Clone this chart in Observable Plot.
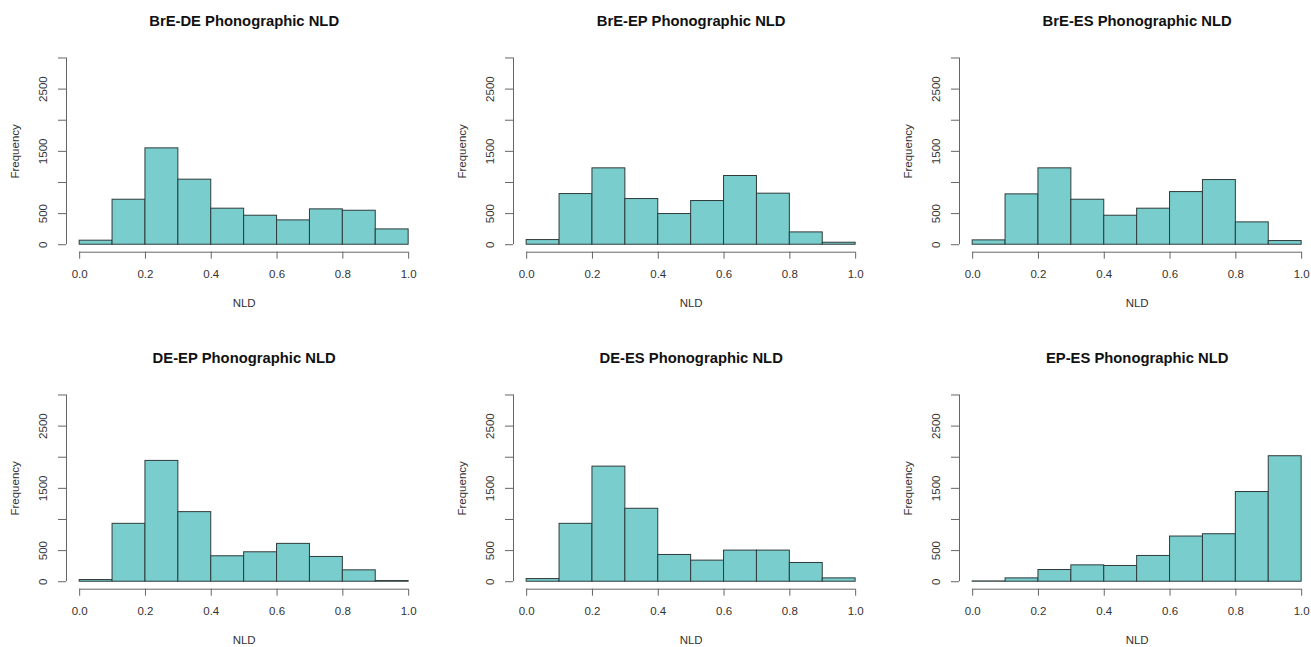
<!DOCTYPE html>
<html>
<head>
<meta charset="utf-8">
<script src="https://cdn.jsdelivr.net/npm/d3@7"></script>
<script src="https://cdn.jsdelivr.net/npm/@observablehq/plot@0.6"></script>
<style>
  html, body { margin: 0; padding: 0; background: #fff; }
  #wrap { position: relative; width: 1311px; height: 647px; overflow: hidden; background: #fff; }
  #wrap svg { position: absolute; overflow: visible; font-family: "Liberation Sans", Arial, Helvetica, sans-serif; }
</style>
</head>
<body>
<div id="wrap"></div>
<script>
// ---- data ----
const binStarts = [0.0, 0.1, 0.2, 0.3, 0.4, 0.5, 0.6, 0.7, 0.8, 0.9];
const binWidth = 0.1;
const titles = [
  "BrE-DE Phonographic NLD",
  "BrE-EP Phonographic NLD",
  "BrE-ES Phonographic NLD",
  "DE-EP Phonographic NLD",
  "DE-ES Phonographic NLD",
  "EP-ES Phonographic NLD"
];
const countsBrEDE = [65, 723, 1548, 1045, 579, 466, 391, 568, 546, 246];
const countsBrEEP = [75, 814, 1227, 734, 493, 702, 1104, 820, 198, 32];
const countsBrEES = [70, 809, 1227, 723, 466, 579, 846, 1039, 359, 59];
const countsDEEP  = [27, 930, 1941, 1118, 409, 473, 608, 398, 183, 11];
const countsDEES  = [43, 930, 1849, 1172, 430, 339, 500, 500, 301, 54];
const countsEPES  = [5, 54, 188, 263, 253, 414, 726, 763, 1441, 2016];
const yTicks = [0, 500, 1000, 1500, 2000, 2500, 3000];
const yTickLabels = [0, 500, 1500, 2500];
const xTicks = [0.0, 0.2, 0.4, 0.6, 0.8, 1.0];
const xLabel = "NLD";
const yLabel = "Frequency";

const allCounts = [countsBrEDE, countsBrEEP, countsBrEES, countsDEEP, countsDEES, countsEPES];

// ---- layout ----
const W = 440, H = 320;
const colLeft = [0, 447, 893.4];
const rowTop = [0, 336.5];
const mL = 66, plotW = 355.3, mT = 50, plotH = 201.7;
const ink = "#333";
const axisCol = "#666";
const fontSize = 11.5;

const wrap = document.getElementById("wrap");

allCounts.forEach((counts, i) => {
  const bins = binStarts.map((b, j) => ({x1: b, x2: b + binWidth, count: counts[j]}));
  const chart = Plot.plot({
    width: W,
    height: H,
    marginLeft: mL,
    marginRight: W - mL - plotW,
    marginTop: mT,
    marginBottom: H - mT - plotH,
    style: {background: "transparent", fontFamily: '"Liberation Sans", Arial, Helvetica, sans-serif', overflow: "visible"},
    x: {domain: [-0.04, 1.04], label: null},
    y: {domain: [-120, 3120], label: null},
    marks: [
      Plot.rectY(bins, {x1: "x1", x2: "x2", y1: 0, y2: "count", fill: "#79CDCD", stroke: "#2f3b3b", strokeWidth: 1, inset: 0}),
      // y axis (R style): line from 0 to 3000 at the left edge of the plot region
      Plot.ruleX([-0.04], {y1: yTicks[0], y2: yTicks[yTicks.length - 1], stroke: axisCol, strokeWidth: 1}),
      Plot.axisY({ticks: yTicks, tickSize: 8, text: null, label: null, stroke: axisCol, anchor: "left"}),
      Plot.text(yTickLabels, {x: -0.04, y: d => d, text: d => String(d), rotate: -90, dx: -23, fill: ink, fontSize: fontSize, textAnchor: "middle", lineAnchor: "middle"}),
      // x axis
      Plot.ruleY([-120], {x1: xTicks[0], x2: xTicks[xTicks.length - 1], stroke: axisCol, strokeWidth: 1}),
      Plot.axisX({ticks: xTicks, tickSize: 7, text: null, label: null, stroke: axisCol, anchor: "bottom"}),
      Plot.text(xTicks, {x: d => d, y: -120, text: d => d3.format(".1f")(d), dy: 22.5, fill: ink, fontSize: fontSize, textAnchor: "middle", lineAnchor: "middle"}),
      // labels
      Plot.text([titles[i]], {frameAnchor: "top", text: d => d, dy: -29, fontSize: 14.8, fontWeight: "bold", fill: "#111", lineAnchor: "middle"}),
      Plot.text([xLabel], {frameAnchor: "bottom", text: d => d, dy: 51.5, fontSize: fontSize, fill: ink, lineAnchor: "middle"}),
      Plot.text([yLabel], {frameAnchor: "left", text: d => d, dx: -51, rotate: -90, fontSize: fontSize, fill: ink, lineAnchor: "middle", textAnchor: "middle"})
    ]
  });
  chart.style.left = colLeft[i % 3] + "px";
  chart.style.top = rowTop[Math.floor(i / 3)] + "px";
  wrap.appendChild(chart);
});
</script>
</body>
</html>
